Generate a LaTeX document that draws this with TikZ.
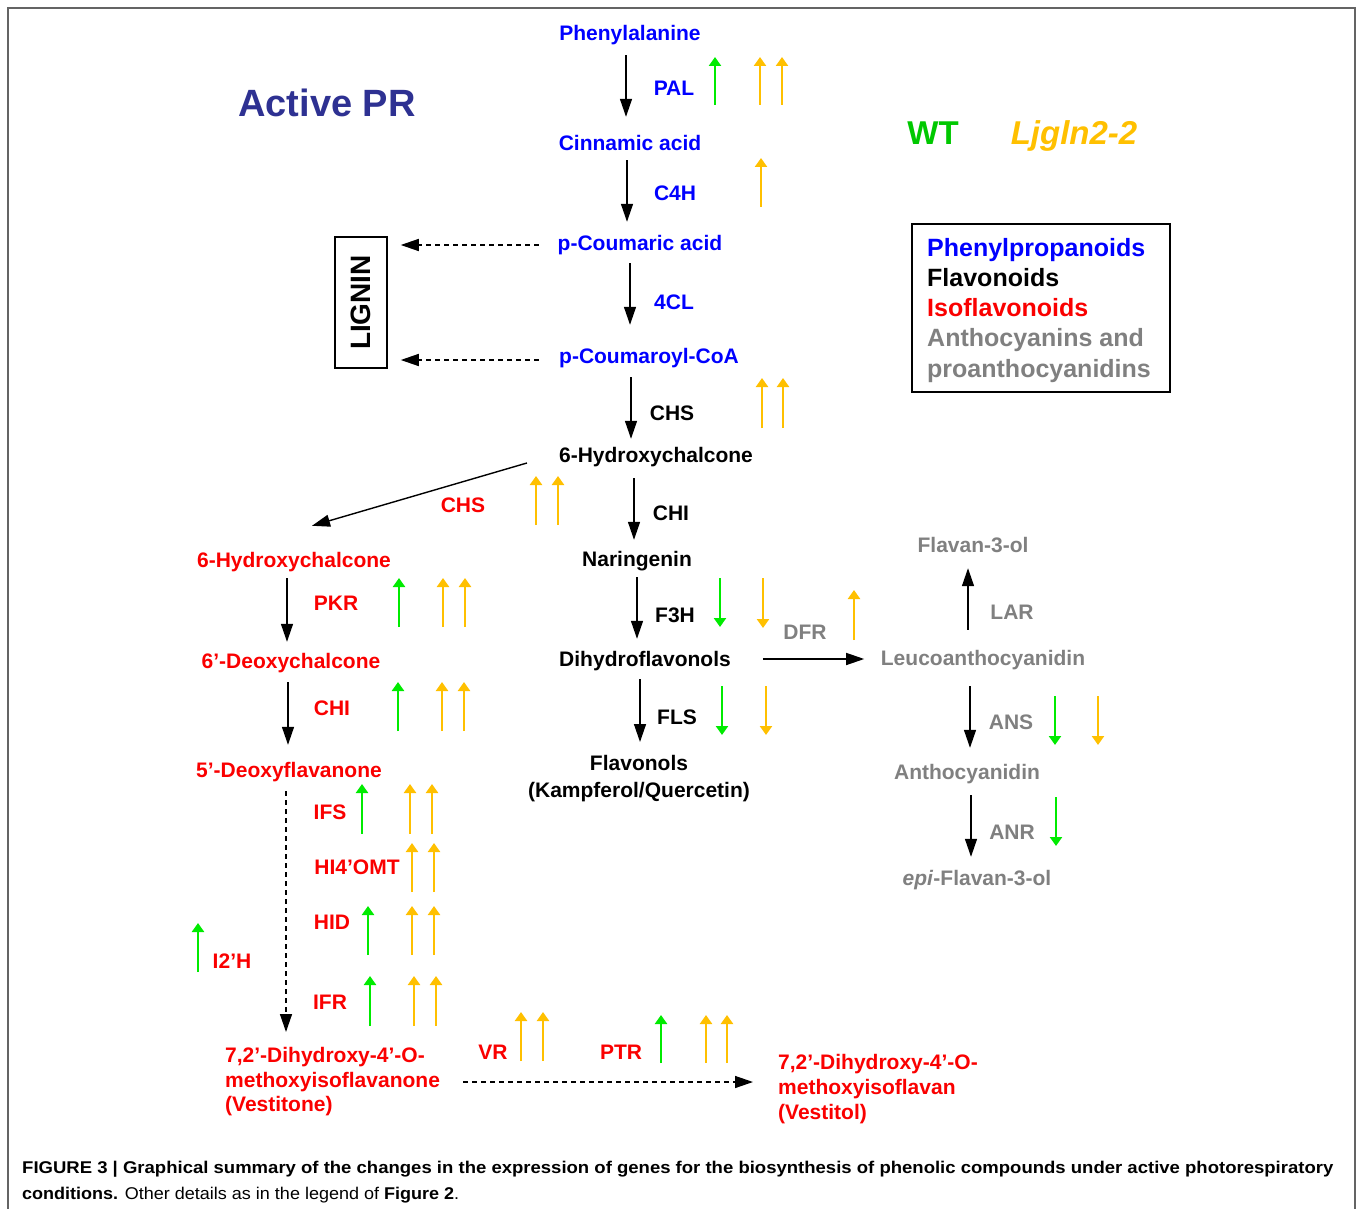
\documentclass[tikz,border=0pt]{standalone}
\usepackage{fontspec}
\setmainfont{Liberation Sans}
\usepackage{graphicx}
\usetikzlibrary{arrows.meta,calc}
\definecolor{cblue}{RGB}{0,0,255}
\definecolor{cnavy}{RGB}{46,49,146}
\definecolor{cred}{RGB}{250,0,0}
\definecolor{cgreen}{RGB}{0,235,0}
\definecolor{cwt}{RGB}{0,200,0}
\definecolor{cyel}{RGB}{255,192,0}
\definecolor{cgray}{RGB}{128,128,128}
\definecolor{cframe}{RGB}{100,100,100}
\begin{document}
\begin{tikzpicture}[x=1pt,y=-1pt,
  lab/.style={anchor=base, inner sep=0pt, text height=15pt, text depth=4pt, font=\fontsize{21}{25}\selectfont\bfseries},
  ml/.style={inner sep=0pt, font=\fontsize{21}{25}\selectfont\bfseries},
  rxn/.style={draw=black, line width=1.4pt, -{Triangle[width=12pt,length=18pt]}},
  drxn/.style={rxn, dash pattern=on 5pt off 4pt},
  gu/.style={draw=cgreen, line width=2.8pt, -{Triangle[width=12pt,length=9pt]}},
  yu/.style={gu, draw=cyel},
  big/.style={anchor=base, inner sep=0pt}
]
\fill[white] (0,0) rectangle (1357,1209);
\useasboundingbox (0,0) rectangle (1357,1209);
\draw[cframe, line width=1.5pt] (8,1209) -- (8,8) -- (1355,8) -- (1355,1209);

% titles
\node[big, text=cnavy, font=\fontsize{38}{44}\selectfont\bfseries] (title) at (327,117) {Active PR};
\node[big, text=cwt, font=\fontsize{33}{40}\selectfont\bfseries] (wt) at (933,145) {WT};
\node[big, text=cyel, font=\fontsize{33}{40}\selectfont\bfseries\itshape] (mut) at (1074,145) {Ljgln2-2};

% legend
\node[draw=black, line width=1.8pt, minimum width=258pt, minimum height=168pt, anchor=north west, inner sep=0pt] (legbox) at (911,223) {};
\node[anchor=north west, inner sep=0pt, align=left, font=\fontsize{25}{30.2}\selectfont\bfseries] (leg) at (927,238)
  {\textcolor{cblue}{Phenylpropanoids}\\\textcolor{black}{Flavonoids}\\\textcolor{cred}{Isoflavonoids}\\\textcolor{cgray}{Anthocyanins and}\\\textcolor{cgray}{proanthocyanidins}};

% lignin
\node[draw=black, line width=1.5pt, rotate=90, minimum width=131pt, minimum height=52pt, inner sep=0pt, font=\fontsize{28}{32}\selectfont\bfseries] (lig) at (361,302.5) {LIGNIN};

% compounds
\node[lab, text=cblue] (phe) at (630,40.5) {Phenylalanine};
\node[lab, text=cblue] (cin) at (630,150.5) {Cinnamic acid};
\node[lab, text=cblue] (pca) at (640,250.5) {p-Coumaric acid};
\node[lab, text=cblue] (pcoa) at (649,363.5) {p-Coumaroyl-CoA};
\node[lab, text=black] (hc) at (656,462.5) {6-Hydroxychalcone};
\node[lab, text=black] (nar) at (637,566.5) {Naringenin};
\node[lab, text=black] (dhf) at (645,666.5) {Dihydroflavonols};
\node[ml, text=black, align=center, anchor=north, font=\fontsize{21}{26.5}\selectfont\bfseries] (flv) at (639,755.5) {Flavonols\\(Kampferol/Quercetin)};
\node[lab, text=cgray] (leu) at (983,665.5) {Leucoanthocyanidin};
\node[lab, text=cgray] (fla) at (973,552.5) {Flavan-3-ol};
\node[lab, text=cgray] (ant) at (967,779.5) {Anthocyanidin};
\node[lab, text=cgray] (epi) at (977,885.5) {\textit{epi}-Flavan-3-ol};
\node[lab, text=cred] (rhc) at (294,567.5) {6-Hydroxychalcone};
\node[lab, text=cred] (dch) at (291,668.5) {6’-Deoxychalcone};
\node[lab, text=cred] (dfl) at (289,777.5) {5’-Deoxyflavanone};
\node[ml, text=cred, align=left, anchor=north west, font=\fontsize{21}{24.5}\selectfont\bfseries] (vone) at (225,1047.5) {7,2’-Dihydroxy-4’-O-\\methoxyisoflavanone\\(Vestitone)};
\node[ml, text=cred, align=left, anchor=north west, font=\fontsize{21}{25}\selectfont\bfseries] (vtol) at (778,1054.5) {7,2’-Dihydroxy-4’-O-\\methoxyisoflavan\\(Vestitol)};

% enzyme labels
\node[lab, text=cblue] (pal) at (674,95.5) {PAL};
\node[lab, text=cblue] (c4h) at (675,200.5) {C4H};
\node[lab, text=cblue] (fcl) at (674,309.5) {4CL};
\node[lab, text=black] (chs) at (672,420.5) {CHS};
\node[lab, text=cred] (chsr) at (463,512.5) {CHS};
\node[lab, text=black] (chi) at (671,520.5) {CHI};
\node[lab, text=black] (f3h) at (675,622.5) {F3H};
\node[lab, text=cgray] (dfr) at (805,639.5) {DFR};
\node[lab, text=black] (fls) at (677,724.5) {FLS};
\node[lab, text=cgray] (lar) at (1012,619.5) {LAR};
\node[lab, text=cgray] (ans) at (1011,729.5) {ANS};
\node[lab, text=cgray] (anr) at (1012,839.5) {ANR};
\node[lab, text=cred] (pkr) at (336,610.5) {PKR};
\node[lab, text=cred] (chir) at (332,715.5) {CHI};
\node[lab, text=cred] (ifs) at (330,819.5) {IFS};
\node[lab, text=cred] (omt) at (357,874.5) {HI4’OMT};
\node[lab, text=cred] (hid) at (332,929.5) {HID};
\node[lab, text=cred] (i2h) at (232,968.5) {I2’H};
\node[lab, text=cred] (ifr) at (330,1009.5) {IFR};
\node[lab, text=cred] (vr) at (493,1059.5) {VR};
\node[lab, text=cred] (ptr) at (621,1059.5) {PTR};

% arrow columns
\coordinate (xa) at (626,0);
\coordinate (xb) at (627,0);
\coordinate (xc) at (630,0);
\coordinate (xd) at (631,0);
\coordinate (xe) at (634,0);
\coordinate (xf) at (637,0);
\coordinate (xg) at (640,0);
\coordinate (xh) at (968,0);
\coordinate (xi) at (970,0);
\coordinate (xj) at (971,0);
\coordinate (xk) at (287,0);
\coordinate (xl) at (288,0);
\coordinate (xm) at (286,0);
\coordinate (ydfr) at (0,659);
\coordinate (ybot) at (0,1082);
\coordinate (yl1) at (0,245);
\coordinate (yl2) at (0,360);

\draw[rxn, shorten <=10.5pt, shorten >=18.5pt] (phe.south -| xa) -- (cin.north -| xa);
\draw[rxn, shorten <=5.5pt, shorten >=13.5pt] (cin.south -| xb) -- (pca.north -| xb);
\draw[rxn, shorten <=8.5pt, shorten >=23.5pt] (pca.south -| xc) -- (pcoa.north -| xc);
\draw[rxn, shorten <=9.5pt, shorten >=8.5pt] (pcoa.south -| xd) -- (hc.north -| xd);
\draw[rxn, shorten <=11.5pt, shorten >=11.5pt] (hc.south -| xe) -- (nar.north -| xe);
\draw[rxn, shorten <=6.5pt, shorten >=12.5pt] (nar.south -| xf) -- (dhf.north -| xf);
\draw[rxn, shorten <=8.5pt, shorten >=13.5pt] (dhf.south -| xg) -- (flv.north -| xg);
\draw[rxn, shorten <=32pt, shorten >=16.5pt] (dhf.east |- ydfr) -- (leu.west |- ydfr);
\draw[rxn, shorten <=20.5pt, shorten >=11.5pt] (leu.north -| xh) -- (fla.south -| xh);
\draw[rxn, shorten <=16.5pt, shorten >=16.5pt] (leu.south -| xi) -- (ant.north -| xi);
\draw[rxn, shorten <=11.5pt, shorten >=13.5pt] (ant.south -| xj) -- (epi.north -| xj);
\draw[rxn] ($(hc.west)+(-32,6)$) -- ($(rhc.north)+(18,-26.5)$);
\draw[rxn, shorten <=6.5pt, shorten >=11.5pt] (rhc.south -| xk) -- (dch.north -| xk);
\draw[rxn, shorten <=9.5pt, shorten >=17.5pt] (dch.south -| xl) -- (dfl.north -| xl);
\draw[drxn, shorten <=9.5pt, shorten >=15.5pt] (dfl.south -| xm) -- (vone.north -| xm);
\draw[drxn, shorten <=23pt, shorten >=25pt] (vone.east |- ybot) -- (vtol.west |- ybot);
\draw[drxn, shorten <=19pt, shorten >=13pt] (pca.west |- yl1) -- (lig.south |- yl1);
\draw[drxn, shorten <=20pt, shorten >=13pt] (pcoa.west |- yl2) -- (lig.south |- yl2);

% expression change marks
\draw[gu] (715,105) -- (715,57);
\draw[yu] (760,105) -- (760,57);
\draw[yu] (782,105) -- (782,57);
\draw[yu] (761,207) -- (761,158);
\draw[yu] (762,428) -- (762,378);
\draw[yu] (783,428) -- (783,378);
\draw[yu] (536,525) -- (536,476);
\draw[yu] (558,525) -- (558,476);
\draw[yu] (854,640) -- (854,590);
\draw[gu] (399,627) -- (399,578);
\draw[yu] (443,627) -- (443,578);
\draw[yu] (465,627) -- (465,578);
\draw[gu] (398,731) -- (398,682);
\draw[yu] (442,731) -- (442,682);
\draw[yu] (464,731) -- (464,682);
\draw[gu] (362,834) -- (362,784);
\draw[yu] (410,834) -- (410,784);
\draw[yu] (432,834) -- (432,784);
\draw[yu] (412,892) -- (412,843);
\draw[yu] (434,892) -- (434,843);
\draw[gu] (368,955) -- (368,906);
\draw[yu] (412,955) -- (412,906);
\draw[yu] (434,955) -- (434,906);
\draw[gu] (198,972) -- (198,923);
\draw[gu] (370,1026) -- (370,976);
\draw[yu] (414,1026) -- (414,976);
\draw[yu] (436,1026) -- (436,976);
\draw[yu] (521,1061) -- (521,1012);
\draw[yu] (543,1061) -- (543,1012);
\draw[gu] (661,1063) -- (661,1015);
\draw[yu] (706,1063) -- (706,1015);
\draw[yu] (727,1063) -- (727,1015);
\draw[gu] (720,578) -- (720,627);
\draw[yu] (763,578) -- (763,628);
\draw[gu] (722,686) -- (722,735);
\draw[yu] (766,686) -- (766,735);
\draw[gu] (1055,696) -- (1055,745);
\draw[yu] (1098,696) -- (1098,745);
\draw[gu] (1056,797) -- (1056,846);

% caption
\node[anchor=base west, inner sep=0pt, font=\fontsize{17}{20}\selectfont, text=black] (cap1) at (22,1173)
  {\resizebox{1311pt}{\height}{\bfseries FIGURE 3 | Graphical summary of the changes in the expression of genes for the biosynthesis of phenolic compounds under active photorespiratory}};
\node[anchor=base west, inner sep=0pt, font=\fontsize{17}{20}\selectfont, text=black] (cap2) at (22,1199)
  {\resizebox{437pt}{\height}{\textbf{conditions.} Other details as in the legend of \textbf{Figure 2}.}};
\end{tikzpicture}
\end{document}
